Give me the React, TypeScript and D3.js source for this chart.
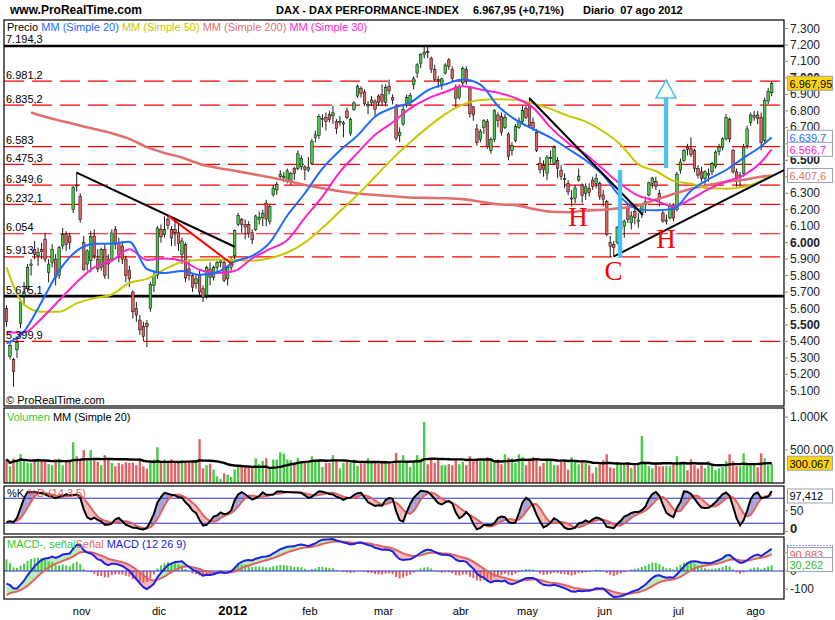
import React from 'react';
import * as d3 from 'd3';

type Ohlc = [number, number, number, number];

// daily candles [open, high, low, close], Sep 30 2011 .. Aug 7 2012
const sepOct2011: Ohlc[] = [
  [5600, 5620, 5490, 5520], [5310, 5400, 5290, 5376], [5290, 5300, 5125, 5217], [5350, 5420, 5300, 5395],
  [5510, 5660, 5480, 5640], [5680, 5760, 5620, 5700], [5720, 5870, 5700, 5850], [5860, 5900, 5800, 5870],
  [5960, 6010, 5900, 5930], [5920, 5970, 5860, 5940], [5960, 6000, 5900, 5945], [6020, 6060, 5880, 5900],
  [5820, 5900, 5760, 5870], [5880, 5990, 5850, 5960], [5900, 5930, 5740, 5790], [5800, 5980, 5780, 5970],
  [5980, 6090, 5960, 6050], [6050, 6070, 5950, 5990], [6040, 6060, 5960, 6000], [6200, 6345, 6180, 6334],
  [6350, 6430, 6310, 6346], [6280, 6300, 6120, 6141],
];
const nov2011: Ohlc[] = [
  [6000, 6040, 5830, 5835], [5870, 5960, 5830, 5950], [5890, 6070, 5820, 6037], [6040, 6080, 5900, 5920],
  [5900, 5960, 5820, 5840], [5850, 5970, 5830, 5960], [5960, 5990, 5780, 5800], [5900, 5930, 5780, 5870],
  [5900, 6080, 5890, 6058], [6080, 6100, 5960, 5990], [6000, 6030, 5880, 5930], [5980, 6010, 5870, 5900],
  [5900, 5920, 5760, 5800], [5830, 5860, 5730, 5780], [5700, 5710, 5540, 5580], [5600, 5640, 5520, 5560],
  [5530, 5560, 5440, 5470], [5490, 5520, 5400, 5430], [5510, 5530, 5366, 5490], [5600, 5760, 5580, 5745],
  [5740, 5830, 5700, 5800], [5800, 6100, 5780, 6089],
];
const dec2011: Ohlc[] = [
  [6080, 6110, 6000, 6035], [6050, 6160, 6030, 6080], [6140, 6170, 6080, 6106], [6080, 6100, 5980, 6028],
  [6080, 6140, 5980, 6060], [6060, 6120, 5950, 5995], [5930, 6030, 5870, 6010], [5990, 6000, 5760, 5785],
  [5840, 5900, 5770, 5800], [5800, 5810, 5700, 5730], [5750, 5810, 5720, 5780], [5800, 5830, 5680, 5700],
  [5720, 5740, 5640, 5670], [5680, 5860, 5660, 5850], [5840, 5880, 5740, 5790], [5790, 5860, 5770, 5850],
  [5850, 5890, 5820, 5880], [5880, 5900, 5850, 5890], [5880, 5900, 5760, 5770], [5780, 5860, 5740, 5850],
  [5850, 5910, 5830, 5898],
];
const jan2012: Ohlc[] = [
  [5920, 6080, 5900, 6075], [6110, 6180, 6100, 6166], [6140, 6150, 6060, 6111], [6110, 6140, 6020, 6095],
  [6110, 6130, 6030, 6057], [6060, 6080, 5990, 6017], [6080, 6170, 6070, 6162], [6140, 6190, 6110, 6152],
  [6150, 6200, 6100, 6179], [6240, 6260, 6100, 6143], [6130, 6230, 6110, 6220], [6290, 6350, 6280, 6332],
  [6320, 6370, 6290, 6354], [6400, 6440, 6380, 6416], [6395, 6430, 6370, 6404], [6380, 6450, 6360, 6436],
  [6370, 6430, 6350, 6419], [6450, 6460, 6380, 6421], [6450, 6560, 6440, 6539], [6460, 6530, 6440, 6511],
  [6460, 6470, 6380, 6444], [6440, 6520, 6430, 6458],
];
const feb2012: Ohlc[] = [
  [6480, 6630, 6470, 6616], [6640, 6680, 6610, 6655], [6650, 6780, 6630, 6766], [6750, 6780, 6700, 6754],
  [6760, 6790, 6680, 6736], [6780, 6800, 6730, 6748], [6770, 6830, 6720, 6788], [6735, 6750, 6660, 6692],
  [6730, 6770, 6710, 6737], [6720, 6740, 6640, 6728], [6800, 6820, 6750, 6760], [6665, 6760, 6650, 6748],
  [6810, 6860, 6800, 6848], [6890, 6960, 6880, 6948], [6935, 6950, 6880, 6905], [6915, 6930, 6830, 6844],
  [6830, 6860, 6780, 6838], [6850, 6890, 6830, 6866], [6860, 6870, 6760, 6808], [6890, 6900, 6830, 6850],
  [6900, 6960, 6830, 6856],
];
const mar2012: Ohlc[] = [
  [6850, 6960, 6830, 6941], [6950, 6990, 6900, 6921], [6880, 6900, 6840, 6866], [6830, 6840, 6620, 6633],
  [6650, 6700, 6610, 6671], [6720, 6830, 6710, 6809], [6845, 6900, 6820, 6880], [6850, 6910, 6830, 6895],
  [6960, 7010, 6930, 6995], [7030, 7090, 7000, 7080], [7090, 7150, 7060, 7144], [7145, 7194, 7120, 7157],
  [7160, 7190, 7120, 7155], [7120, 7130, 7030, 7054], [7050, 7080, 6980, 6990], [6990, 7010, 6940, 6984],
  [6960, 7000, 6930, 6995], [7030, 7090, 7020, 7079], [7110, 7120, 7050, 7070], [7050, 7070, 6980, 6998],
  [6945, 6960, 6820, 6876], [6880, 6960, 6870, 6947],
];
const apr2012: Ohlc[] = [
  [6970, 7070, 6950, 7057], [7050, 7070, 6960, 6984], [6940, 6950, 6760, 6783], [6825, 6830, 6740, 6775],
  [6690, 6720, 6590, 6607], [6625, 6690, 6610, 6675], [6700, 6750, 6660, 6740], [6735, 6750, 6570, 6583],
  [6560, 6640, 6540, 6625], [6625, 6810, 6610, 6801], [6775, 6790, 6700, 6741], [6765, 6790, 6650, 6671],
  [6700, 6780, 6690, 6760], [6660, 6670, 6500, 6523], [6560, 6610, 6530, 6590], [6620, 6720, 6610, 6705],
  [6700, 6760, 6690, 6739], [6735, 6830, 6720, 6801], [6815, 6830, 6750, 6761],
];
const may2012: Ohlc[] = [
  [6835, 6880, 6700, 6710], [6730, 6760, 6680, 6694], [6670, 6690, 6550, 6561], [6480, 6520, 6420, 6444],
  [6470, 6500, 6400, 6444], [6420, 6530, 6380, 6520], [6510, 6560, 6480, 6518], [6480, 6590, 6470, 6579],
  [6500, 6520, 6390, 6452], [6440, 6470, 6380, 6401], [6390, 6420, 6330, 6386], [6360, 6380, 6290, 6308],
  [6265, 6320, 6220, 6271], [6270, 6350, 6240, 6332], [6380, 6450, 6370, 6404], [6350, 6360, 6240, 6285],
  [6300, 6360, 6260, 6339], [6330, 6360, 6280, 6304], [6380, 6400, 6320, 6340], [6360, 6420, 6330, 6391],
  [6360, 6370, 6260, 6281], [6290, 6320, 6220, 6264],
];
const jun2012: Ohlc[] = [
  [6250, 6260, 6040, 6050], [6000, 6040, 5914, 5978], [5990, 6010, 5920, 5969], [6000, 6100, 5990, 6094],
  [6080, 6170, 6070, 6094], [6100, 6140, 6030, 6131], [6210, 6240, 6120, 6141], [6120, 6190, 6080, 6162],
  [6190, 6220, 6110, 6152], [6130, 6180, 6090, 6138], [6180, 6240, 6150, 6230], [6230, 6280, 6180, 6248],
  [6290, 6370, 6280, 6363], [6360, 6400, 6330, 6392], [6370, 6400, 6320, 6343], [6300, 6320, 6220, 6264],
  [6180, 6200, 6120, 6132], [6130, 6170, 6110, 6137], [6150, 6240, 6140, 6228], [6230, 6240, 6130, 6149],
  [6200, 6430, 6190, 6416],
];
const jul2012: Ohlc[] = [
  [6440, 6510, 6420, 6490], [6500, 6570, 6490, 6560], [6580, 6600, 6530, 6566], [6570, 6640, 6520, 6535],
  [6560, 6570, 6430, 6450], [6450, 6470, 6390, 6410], [6430, 6460, 6370, 6388], [6390, 6440, 6350, 6430],
  [6410, 6450, 6370, 6420], [6430, 6490, 6410, 6480], [6465, 6560, 6450, 6550], [6555, 6600, 6530, 6580],
  [6580, 6640, 6560, 6630], [6630, 6780, 6620, 6760], [6750, 6760, 6610, 6630], [6560, 6570, 6420, 6430],
  [6430, 6450, 6340, 6390], [6395, 6430, 6340, 6410], [6420, 6600, 6400, 6580], [6590, 6710, 6570, 6690],
  [6730, 6790, 6710, 6775], [6760, 6800, 6740, 6772],
];
const aug2012: Ohlc[] = [
  [6775, 6800, 6720, 6754], [6760, 6790, 6560, 6606], [6620, 6880, 6600, 6865], [6860, 6940, 6840, 6918],
  [6910, 6980, 6890, 6967.95],
];

// volume, thousands
const volSepOct = [360, 253, 370, 355, 436, 330, 304, 304, 360, 370, 335, 320, 284, 269, 355, 370, 269, 335, 335, 618, 405, 355];
const volNov = [497, 335, 497, 345, 320, 269, 421, 355, 304, 253, 304, 284, 314, 304, 309, 269, 355, 253, 218, 309, 355, 542];
const volDec = [320, 355, 304, 355, 330, 309, 345, 330, 309, 314, 330, 664, 223, 269, 294, 203, 101, 61, 147, 127, 91];
const volJan = [203, 243, 243, 243, 253, 233, 375, 284, 335, 375, 208, 355, 355, 466, 446, 355, 345, 294, 380, 304, 320, 320];
const volFeb = [405, 320, 345, 243, 304, 304, 421, 355, 223, 304, 320, 309, 355, 259, 294, 304, 375, 304, 320, 294, 335];
const volMar = [335, 304, 294, 456, 320, 421, 320, 243, 345, 421, 370, 923, 284, 360, 304, 355, 269, 269, 284, 269, 355, 284];
const volApr = [320, 269, 406, 355, 370, 330, 345, 390, 380, 304, 355, 284, 436, 385, 375, 304, 436, 390, 269];
const volMay = [355, 390, 370, 254, 304, 370, 335, 269, 269, 320, 345, 203, 390, 345, 284, 345, 304, 269, 147, 238, 284, 345];
const volJun = [436, 238, 223, 320, 284, 284, 284, 223, 284, 284, 710, 294, 254, 223, 284, 254, 254, 254, 254, 304, 406];
const volJul = [304, 284, 193, 360, 269, 218, 269, 223, 330, 284, 193, 223, 243, 330, 436, 330, 254, 254, 451, 294, 269, 284];
const volAug = [238, 451, 375, 269, 294];

const maIdx = [0, 5, 10, 15, 20, 25, 30, 35, 40, 45, 50, 55, 60, 65, 70, 75, 80, 85, 90, 95, 100, 105, 110, 115, 120, 125, 130, 135, 140, 145, 150, 155, 160, 165, 170, 175, 180, 185, 190, 195, 200, 205, 210, 215, 218];
const ma20 = [5388, 5460, 5640, 5830, 5950, 5993, 5995, 6005, 5840, 5815, 5828, 5805, 5820, 5885, 5920, 6000, 6165, 6300, 6450, 6560, 6650, 6765, 6818, 6850, 6925, 6962, 6990, 6960, 6830, 6747, 6690, 6638, 6570, 6500, 6410, 6275, 6202, 6196, 6205, 6315, 6385, 6441, 6515, 6585, 6639.7];
const ma30 = [5455, 5455, 5540, 5650, 5760, 5850, 5890, 5960, 5895, 5904, 5890, 5835, 5815, 5828, 5905, 5960, 6016, 6150, 6280, 6430, 6545, 6655, 6730, 6815, 6875, 6915, 6950, 6930, 6910, 6878, 6820, 6700, 6605, 6537, 6445, 6355, 6285, 6255, 6220, 6265, 6325, 6370, 6410, 6490, 6566.7];
const ma50 = [5850, 5625, 5580, 5580, 5631, 5663, 5685, 5755, 5780, 5838, 5882, 5895, 5898, 5894, 5890, 5905, 5940, 6000, 6090, 6190, 6290, 6400, 6510, 6610, 6700, 6780, 6838, 6866, 6870, 6868, 6845, 6812, 6770, 6735, 6675, 6595, 6475, 6435, 6375, 6358, 6330, 6328, 6338, 6375, 6410];
const ma200Idx = [7, 10, 15, 20, 25, 30, 35, 40, 45, 50, 55, 60, 65, 70, 75, 80, 85, 90, 95, 100, 105, 110, 115, 120, 125, 130, 135, 140, 145, 150, 155, 160, 165, 170, 175, 180, 185, 190, 195, 200, 205, 210, 215, 218];
const ma200 = [6790, 6770, 6742, 6716, 6690, 6665, 6630, 6580, 6545, 6517, 6478, 6455, 6436, 6417, 6397, 6375, 6350, 6330, 6312, 6298, 6290, 6282, 6274, 6272, 6270, 6264, 6248, 6233, 6228, 6205, 6188, 6185, 6195, 6200, 6210, 6226, 6262, 6295, 6327, 6350, 6370, 6382, 6400, 6407.6];

const priceLevels = [6981.2, 6835.2, 6583, 6475.3, 6349.6, 6232.1, 6054, 5913, 5399.9];
const strongLevels = [7194.3, 5675.1];

const monthLabels = ['nov', 'dic', '2012', 'feb', 'mar', 'abr', 'may', 'jun', 'jul', 'ago'];
const monthStart = [22, 44, 65, 87, 108, 130, 149, 171, 192, 214];

// drawn analysis: [session, price] pairs
const blackTrends = [
  [[20, 6425], [65, 5975]],
  [[148.9, 6878], [181.3, 6168]],
  [[172.9, 5915], [221.5, 6441]],
];
const redTrend = [[46, 6164], [64.6, 5864]];
const blueBar = { idx: 174.8, from: 5907, to: 6441 };
const blueArrow = { idx: 187.9, from: 6453, base: 6878, tip: 6987 };
const letters = [
  { text: 'H', idx: 162.8, price: 6100 },
  { text: 'C', idx: 172.9, price: 5773 },
  { text: 'H', idx: 187.9, price: 5967 },
];

const lastClose = 6967.95;
const lastVolMa = '300.067';
const lastStoch = '97,412';
const lastMacd = '121,145';
const lastSignal = '90,883';
const lastHist = '30,262';

const macdSeed12 = 5560;
const macdSeed26 = 5632;
const signalSeed = -150;

const candles: Ohlc[] = [...sepOct2011, ...nov2011, ...dec2011, ...jan2012, ...feb2012, ...mar2012, ...apr2012, ...may2012, ...jun2012, ...jul2012, ...aug2012];
const volumes = [...volSepOct, ...volNov, ...volDec, ...volJan, ...volFeb, ...volMar, ...volApr, ...volMay, ...volJun, ...volJul, ...volAug].map((v) => v * 1000);

const FONT = 'Liberation Sans, Arial, sans-serif';
const GREEN = '#46cc46';
const RED = '#e26262';
const BLUE_MA = '#1a6cff';
const PINK_MA = '#ff22cc';
const YELLOW_MA = '#c8c800';
const SALMON_MA = '#e07070';
const SKY = '#4cc0f0';

const fmt = (v: number, d: number) =>
  d3.format(`,.${d}f`)(v).replace(/[,.]/g, (m) => (m === ',' ? '.' : ','));

const sma = (arr: number[], n: number) =>
  arr.map((_, i) => d3.mean(arr.slice(Math.max(0, i - n + 1), i + 1)) as number);

const ema = (arr: number[], n: number, seed: number) => {
  const k = 2 / (n + 1);
  let e = seed;
  return arr.map((v) => (e = e + k * (v - e)));
};

// polygons between two series, split where they cross
function bands(a: number[], b: number[], xf: (i: number) => number, yf: (v: number) => number) {
  const out: { d: string; up: boolean }[] = [];
  for (let i = 0; i < a.length - 1; i++) {
    const x0 = xf(i), x1 = xf(i + 1);
    const d0 = a[i] - b[i], d1 = a[i + 1] - b[i + 1];
    if (d0 * d1 >= 0) {
      out.push({
        d: `M${x0},${yf(a[i])}L${x1},${yf(a[i + 1])}L${x1},${yf(b[i + 1])}L${x0},${yf(b[i])}Z`,
        up: d0 + d1 > 0,
      });
    } else {
      const t = d0 / (d0 - d1);
      const xm = x0 + t * (x1 - x0);
      const vm = a[i] + t * (a[i + 1] - a[i]);
      out.push({ d: `M${x0},${yf(a[i])}L${xm},${yf(vm)}L${x0},${yf(b[i])}Z`, up: d0 > 0 });
      out.push({ d: `M${xm},${yf(vm)}L${x1},${yf(a[i + 1])}L${x1},${yf(b[i + 1])}Z`, up: d1 > 0 });
    }
  }
  return out;
}

function ValueBox({ y, text, color, fill }: { y: number; text: string; color: string; fill: string }) {
  return (
    <g>
      <rect x={787.5} y={y - 7} width={45} height={14} fill={fill} stroke="#9aa3b5" />
      <text x={789.5} y={y + 0.5} dominantBaseline="central" fontSize={11} fill={color}>
        {text}
      </text>
    </g>
  );
}

export default function App() {
  const n = candles.length;
  const x = d3.scaleLinear().domain([0, n - 1]).range([6.5, 771.7]);
  const yP = d3.scaleLinear().domain([5008, 7352]).range([406, 20]);
  const yV = d3.scaleLinear().domain([0, 1000000]).range([483, 417]);
  const yS = d3.scaleLinear().domain([0, 100]).range([531.6, 489.9]);
  const yM = d3.scaleLinear().domain([-100, 0]).range([589, 571]);

  const highs = candles.map((c) => c[1]);
  const lows = candles.map((c) => c[2]);
  const closes = candles.map((c) => c[3]);

  const rawK = closes.map((c, i) => {
    const s = Math.max(0, i - 13);
    const hh = d3.max(highs.slice(s, i + 1)) as number;
    const ll = d3.min(lows.slice(s, i + 1)) as number;
    return hh === ll ? 50 : (100 * (c - ll)) / (hh - ll);
  });
  const stochK = sma(rawK, 3);
  const stochD = sma(stochK, 5);

  const e12 = ema(closes, 12, macdSeed12);
  const e26 = ema(closes, 26, macdSeed26);
  const macd = e12.map((v, i) => v - e26[i]);
  const signal = ema(macd, 9, signalSeed);
  const hist = macd.map((v, i) => v - signal[i]);

  const volMa = sma(volumes, 20);

  const maPath = (idx: number[], vals: number[]) =>
    d3
      .line<number>()
      .x((_, i) => x(idx[i]))
      .y((v) => yP(v))
      .curve(d3.curveMonotoneX)(vals) as string;

  const seriesPath = (vals: number[], yf: (v: number) => number) =>
    d3
      .line<number>()
      .x((_, i) => x(i))
      .y((v) => yf(v))(vals) as string;

  const stochBands = bands(stochK, stochD, x, yS);
  const macdBands = bands(macd, signal, x, yM);

  const priceTicks = d3.range(5100, 7301, 100);
  const isUp = (c: Ohlc) => c[3] >= c[0];

  return (
    <svg width={835} height={620} style={{ display: 'block', fontFamily: FONT }}>
      <style>{`body{margin:0}`}</style>
      <defs>
        <clipPath id="pclip">
          <rect x={4} y={20} width={780} height={386} />
        </clipPath>
      </defs>
      <rect width={835} height={620} fill="#fff" />

      {/* header */}
      <text x={10} y={14} fontSize={12} fontWeight="bold">www.ProRealTime.com</text>
      <text x={276} y={14} fontSize={11} fontWeight="bold">DAX - DAX PERFORMANCE-INDEX</text>
      <text x={473} y={14} fontSize={11} fontWeight="bold">{`${fmt(lastClose, 2)} (+0,71%)`}</text>
      <text x={583} y={14} fontSize={11} fontWeight="bold" style={{ whiteSpace: 'pre' }}>Diario  07 ago 2012</text>

      {/* price panel */}
      <g clipPath="url(#pclip)">
        {priceLevels.map((v) => (
          <line key={v} x1={4} x2={784} y1={yP(v)} y2={yP(v)} stroke="#ff0000" strokeWidth={1.2} strokeDasharray="20 8" />
        ))}
        {strongLevels.map((v) => (
          <line key={v} x1={4} x2={784} y1={yP(v)} y2={yP(v)} stroke="#000" strokeWidth={2.6} />
        ))}
        {candles.map((c, i) => {
          const cx = x(i);
          const top = yP(Math.max(c[0], c[3]));
          const h = Math.max(1, Math.abs(yP(c[0]) - yP(c[3])));
          return (
            <g key={i}>
              <line x1={cx} x2={cx} y1={yP(c[1])} y2={yP(c[2])} stroke="#000" strokeWidth={0.9} />
              <rect x={cx - 1.3} y={top} width={2.6} height={h} fill={isUp(c) ? GREEN : RED} stroke="#000" strokeWidth={0.5} />
            </g>
          );
        })}
        <path d={maPath(ma200Idx, ma200)} fill="none" stroke={SALMON_MA} strokeWidth={2.6} />
        <path d={maPath(maIdx, ma50)} fill="none" stroke={YELLOW_MA} strokeWidth={2} />
        <path d={maPath(maIdx, ma30)} fill="none" stroke={PINK_MA} strokeWidth={2} />
        <path d={maPath(maIdx, ma20)} fill="none" stroke={BLUE_MA} strokeWidth={2} />

        {blackTrends.map((t, k) => (
          <line key={k} x1={x(t[0][0])} y1={yP(t[0][1])} x2={x(t[1][0])} y2={yP(t[1][1])} stroke="#000" strokeWidth={2} />
        ))}
        <line x1={x(redTrend[0][0])} y1={yP(redTrend[0][1])} x2={x(redTrend[1][0])} y2={yP(redTrend[1][1])} stroke="#ff0000" strokeWidth={2} />
        <rect x={x(blueBar.idx) - 2.2} y={yP(blueBar.to)} width={4.4} height={yP(blueBar.from) - yP(blueBar.to)} fill={SKY} />
        <rect x={x(blueArrow.idx) - 2.2} y={yP(blueArrow.base)} width={4.4} height={yP(blueArrow.from) - yP(blueArrow.base)} fill={SKY} />
        <polygon
          points={`${x(blueArrow.idx)},${yP(blueArrow.tip)} ${x(blueArrow.idx) - 10},${yP(blueArrow.base)} ${x(blueArrow.idx) + 10},${yP(blueArrow.base)}`}
          fill="#fff"
          stroke={SKY}
          strokeWidth={1.5}
        />
        {letters.map((l, k) => (
          <text key={k} x={x(l.idx)} y={yP(l.price)} textAnchor="middle" fontSize={27} fill="#ff0000" fontFamily="Liberation Serif, Times New Roman, serif">
            {l.text}
          </text>
        ))}
      </g>
      <text x={7} y={31} fontSize={11}>
        <tspan fill="#000">Precio </tspan>
        <tspan fill={BLUE_MA}>MM (Simple 20) </tspan>
        <tspan fill={YELLOW_MA}>MM (Simple 50) </tspan>
        <tspan fill={SALMON_MA}>MM (Simple 200) </tspan>
        <tspan fill={PINK_MA}>MM (Simple 30)</tspan>
      </text>
      {[...strongLevels, ...priceLevels].map((v) => (
        <text key={v} x={6} y={yP(v) - 2.5} fontSize={11} fill="#000">
          {fmt(v, Number.isInteger(v) ? 0 : 1)}
        </text>
      ))}
      <text x={6} y={404} fontSize={11}>© ProRealTime.com</text>
      <rect x={4} y={20} width={780} height={386} fill="none" stroke="#000" strokeWidth={1.2} />
      {priceTicks.map((v) => (
        <g key={v}>
          <line x1={784} x2={788} y1={yP(v)} y2={yP(v)} stroke="#888" />
          <text x={790} y={yP(v)} dominantBaseline="central" fontSize={12} fill="#222" fontWeight={v % 500 === 0 ? 'bold' : 'normal'}>
            {fmt(v, 0)}
          </text>
        </g>
      ))}
      <ValueBox y={yP(lastClose)} text={fmt(lastClose, 2)} color="#000" fill="#ffd400" />
      <ValueBox y={yP(ma20[ma20.length - 1])} text={fmt(ma20[ma20.length - 1], 1)} color={BLUE_MA} fill="#fff" />
      <ValueBox y={yP(ma30[ma30.length - 1])} text={fmt(ma30[ma30.length - 1], 1)} color={PINK_MA} fill="#fff" />
      <ValueBox y={yP(ma200[ma200.length - 1])} text={fmt(ma200[ma200.length - 1], 1)} color={SALMON_MA} fill="#fff" />

      {/* volume panel */}
      {volumes.map((v, i) => (
        <rect key={i} x={x(i) - 1.2} y={yV(v)} width={2.4} height={yV(0) - yV(v)} fill={isUp(candles[i]) ? GREEN : RED} />
      ))}
      <path d={seriesPath(volMa, yV)} fill="none" stroke="#000" strokeWidth={2.4} />
      <text x={7} y={421} fontSize={11}>
        <tspan fill="#33cc33">Volumen </tspan>
        <tspan fill="#000">MM (Simple 20)</tspan>
      </text>
      <rect x={4} y={408} width={780} height={75} fill="none" stroke="#000" strokeWidth={1.2} />
      {[500000, 1000000].map((v) => (
        <g key={v}>
          <line x1={784} x2={788} y1={yV(v)} y2={yV(v)} stroke="#888" />
          <text x={790} y={yV(v)} dominantBaseline="central" fontSize={12} fill="#222">
            {v === 1000000 ? '1.000K' : fmt(v / 1000, 0) + '.000'}
          </text>
        </g>
      ))}
      <ValueBox y={yV(300067)} text={lastVolMa} color="#000" fill="#ffd400" />

      {/* stochastic panel */}
      {stochBands.map((b, k) => (
        <path key={k} d={b.d} fill={b.up ? '#a4a4d4' : '#f5b8b8'} />
      ))}
      {[20, 80].map((v) => (
        <line key={v} x1={4} x2={784} y1={yS(v)} y2={yS(v)} stroke="#2f2fcf" strokeWidth={1} />
      ))}
      <path d={seriesPath(stochD, yS)} fill="none" stroke={RED} strokeWidth={2} />
      <path d={seriesPath(stochK, yS)} fill="none" stroke="#000" strokeWidth={2} />
      <text x={7} y={497} fontSize={11}>
        <tspan fill="#000">%K </tspan>
        <tspan fill={RED}>%D (14 3 5)</tspan>
      </text>
      <rect x={4} y={486} width={780} height={48} fill="none" stroke="#000" strokeWidth={1.2} />
      <line x1={784} x2={788} y1={yS(50)} y2={yS(50)} stroke="#888" />
      <text x={790} y={yS(50)} dominantBaseline="central" fontSize={12} fill="#222">50</text>
      <line x1={784} x2={788} y1={yS(0)} y2={yS(0)} stroke="#888" />
      <text x={790} y={yS(0) - 3} dominantBaseline="central" fontSize={13} fontWeight="bold" fill="#222">0</text>
      <ValueBox y={yS(97.412) + 5} text={lastStoch} color="#000" fill="#fff" />

      {/* MACD panel */}
      {macdBands.map((b, k) => (
        <path key={k} d={b.d} fill={b.up ? '#b4eeb4' : '#f5b8b8'} />
      ))}
      {hist.map((v, i) => (
        <rect key={i} x={x(i) - 1} y={Math.min(yM(v), yM(0))} width={2} height={Math.abs(yM(v) - yM(0))} fill={v >= 0 ? GREEN : RED} />
      ))}
      <line x1={4} x2={784} y1={yM(0)} y2={yM(0)} stroke="#2f2fcf" strokeWidth={1} />
      <path d={seriesPath(signal, yM)} fill="none" stroke={RED} strokeWidth={2} />
      <path d={seriesPath(macd, yM)} fill="none" stroke="#2020e0" strokeWidth={2} />
      <text x={7} y={548} fontSize={11}>
        <tspan fill="#33cc33">MACD-, señal</tspan>
        <tspan fill={RED}>Señal </tspan>
        <tspan fill="#2020e0">MACD (12 26 9)</tspan>
      </text>
      <rect x={4} y={537} width={780} height={62} fill="none" stroke="#000" strokeWidth={1.2} />
      {[-100, 0, 100].map((v) => (
        <g key={v}>
          <line x1={784} x2={788} y1={yM(v)} y2={yM(v)} stroke="#888" />
          <text x={790} y={yM(v)} dominantBaseline="central" fontSize={12} fill="#222">{v}</text>
        </g>
      ))}
      <rect x={787.5} y={545.5} width={45} height={14} fill="#fff" stroke="#2020e0" strokeDasharray="1 2" />
      <text x={789.5} y={552.5} dominantBaseline="central" fontSize={11} fill="#2020e0">{lastMacd}</text>
      <ValueBox y={554.5} text={lastSignal} color={RED} fill="#fff" />
      <ValueBox y={564.5} text={lastHist} color="#33bb33" fill="#fff" />

      {/* time axis */}
      {monthLabels.map((m, k) => (
        <text key={m} x={x(monthStart[k]) - 2} y={615} textAnchor="middle" fontSize={m === '2012' ? 13 : 11} fontWeight={m === '2012' ? 'bold' : 'normal'}>
          {m}
        </text>
      ))}
    </svg>
  );
}
